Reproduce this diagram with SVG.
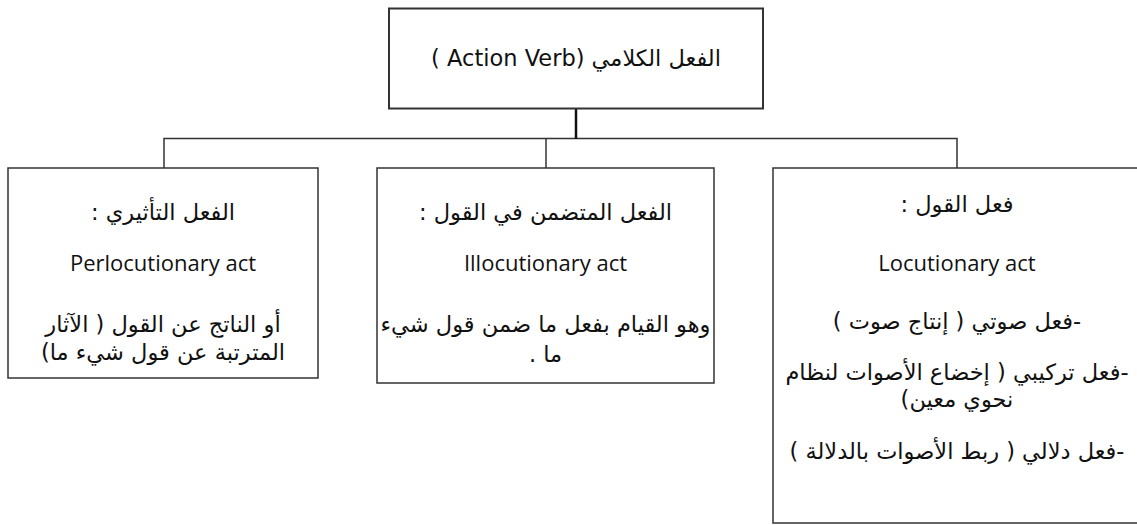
<svg xmlns="http://www.w3.org/2000/svg" width="1137" height="525" viewBox="0 0 1137 525">
<style>
.box{fill:#fff;stroke:#333;stroke-width:1.5}
.top{fill:#fff;stroke:#333;stroke-width:2}
.ar{font-family:"DejaVu Sans","Noto Sans",sans-serif;font-size:22.5px;fill:#111;text-anchor:middle;direction:rtl}
.en{font-family:"Open Sans","Liberation Sans",sans-serif;font-size:22px;fill:#111;text-anchor:middle}
.con{fill:none;stroke:#333;stroke-width:1.5}
</style>
<rect width="1137" height="525" fill="#fff"/>
<g id="connectors">
<path class="con" d="M164 168V138.5H957V168"/>
<path class="con" d="M546 138.5V168"/>
<path d="M576 108V139" stroke="#111" stroke-width="2.5" fill="none"/>
</g>
<g id="root">
<rect class="top" x="389" y="8.5" width="374" height="100"/>
<text class="ar" x="576" y="66">الفعل الكلامي (Action Verb )</text>
</g>
<g id="perlocutionary">
<rect class="box" x="8" y="168" width="310" height="210"/>
<text class="ar" x="163" y="220">الفعل التأثيري :</text>
<text class="en" x="163" y="271">Perlocutionary act</text>
<text class="ar" x="163" y="332">أو الناتج عن القول  ( الآثار</text>
<text class="ar" x="163" y="360">المترتبة عن قول شيء ما)</text>
</g>
<g id="illocutionary">
<rect class="box" x="377" y="168" width="337" height="215"/>
<text class="ar" x="545.5" y="220">الفعل المتضمن في القول :</text>
<text class="en" x="545.5" y="271">Illocutionary act</text>
<text class="ar" x="545.5" y="332">وهو القيام بفعل ما ضمن قول شيء</text>
<text class="ar" x="545.5" y="362">ما .</text>
</g>
<g id="locutionary">
<rect class="box" x="773" y="168" width="368" height="355"/>
<text class="ar" x="957" y="212">فعل القول :</text>
<text class="en" x="957" y="271">Locutionary act</text>
<text class="ar" x="957" y="329">-فعل صوتي ( إنتاج صوت )</text>
<text class="ar" x="957" y="380">-فعل تركيبي ( إخضاع الأصوات لنظام</text>
<text class="ar" x="957" y="407">نحوي معين)</text>
<text class="ar" x="957" y="459">-فعل دلالي ( ربط الأصوات بالدلالة )</text>
</g>
</svg>
